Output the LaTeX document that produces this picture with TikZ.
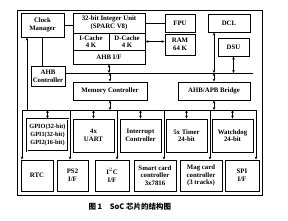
\documentclass[tikz,border=0pt]{standalone}
\usepackage{fontspec}
\setmainfont{Liberation Serif}
\newfontfamily\cjk{Noto Sans CJK SC}
\usepackage{tikz}
\usetikzlibrary{arrows.meta, positioning, calc}
\tikzset{
    box/.style={rectangle, draw, line width=0.9pt, inner sep=0pt, align=center,
                font=\fontsize{6.8}{7.6}\selectfont\bfseries},
    arrow/.style={line width=0.7pt,-{Stealth[length=3pt,width=2.6pt]}},
    dblarrow/.style={line width=0.7pt,{Stealth[length=3pt,width=2.6pt]}-{Stealth[length=3pt,width=2.6pt]}},
    bus/.style={line width=0.9pt}
}

\begin{document}
\begin{tikzpicture}[x=1pt, y=-1pt]
    \useasboundingbox (0,0) rectangle (288,220);
    % Frame
    \draw[line width=0.9pt] (17,10) rectangle (262,195);

    % CPU part
    \node[box, minimum width=43, minimum height=24] (clk) at (42.5,25) {Clock\\Manager};
    \node[box, minimum width=72, minimum height=20] (iu) at (109,23) {32-bit Integer Unit\\(SPARC V8)};
    \node[box, minimum width=36, minimum height=17] (icache) at (91,41.5) {I-Cache\\4 K};
    \node[box, minimum width=36, minimum height=17] (dcache) at (127,41.5) {D-Cache\\4 K};
    \node[box, minimum width=72, minimum height=14] (ahbif) at (109,57) {AHB I/F};
    \node[box, minimum width=30, minimum height=18] (fpu) at (180,23) {FPU};
    \node[box, minimum width=30, minimum height=21] (ram) at (180,44.5) {RAM\\64 K};
    \node[box, minimum width=42, minimum height=18] (dcl) at (229,23) {DCL};
    \node[box, minimum width=31, minimum height=18] (dsu) at (233.5,47) {DSU};
    \node[box, minimum width=34, minimum height=20] (ahbc) at (48,76) {AHB\\Controller};
    \node[box, minimum width=74, minimum height=18] (mem) at (110,91) {Memory Controller};
    \node[box, minimum width=72, minimum height=18] (bridge) at (214,91) {AHB/APB Bridge};

    % Peripherals
    \node[box, double, double distance=0.8pt, minimum width=41, minimum height=32,
          font=\fontsize{6.3}{8}\selectfont\bfseries] (gpio) at (47.5,135)
        {GPIO(32-bit)\\GPI1(32-bit)\\GPI2(16-bit)};
    \node[box, minimum width=41, minimum height=33] (uart) at (93.5,135.5) {4x\\UART};
    \node[box, minimum width=41, minimum height=33] (intc) at (140.5,135.5) {Interrupt\\Controller};
    \node[box, minimum width=41, minimum height=33] (timer) at (186.5,135.5) {5x Timer\\24-bit};
    \node[box, minimum width=41, minimum height=33] (wdog) at (232.5,135.5) {Watchdog\\24-bit};
    \node[box, minimum width=32, minimum height=31] (rtc) at (37,175.5) {RTC};
    \node[box, minimum width=31, minimum height=31] (ps2) at (72.5,175.5) {PS2\\I/F};
    \node[box, minimum width=34, minimum height=31] (i2c) at (112,175.5) {I$^2$C\\I/F};
    \node[box, minimum width=42, minimum height=31] (smart) at (155,175.5) {Smart card\\controller\\3x7816};
    \node[box, minimum width=42, minimum height=31] (mag) at (201,175.5) {Mag card\\controller\\(3 tracks)};
    \node[box, minimum width=34, minimum height=31] (spi) at (242,175.5) {SPI\\I/F};

    % Buses
    \coordinate (ahbL) at (65,73);
    \coordinate (ahbR) at (253,73);
    \coordinate (apbL) at (22,110);
    \coordinate (apbR) at (256,110);
    \coordinate (ck) at (27,110);
    \draw[bus] (ahbL) -- (ahbR);
    \draw[bus] (apbL) -- (apbR);

    % Links
    \draw[bus] (clk.east) -- (clk.east -| iu.west);
    \draw[bus] (iu.east) -- (fpu.west);
    \draw[bus] (clk.south) -- (clk.south |- ahbc.north);
    \draw[arrow] (ck) -- (ck |- clk.south);
    \draw[dblarrow] (dcache.east) -- (dcache.east -| ram.west);
    \draw[dblarrow] (ahbif.south) -- (ahbif.south |- ahbL);
    \draw[dblarrow] (mem.north |- ahbL) -- (mem.north);
    \draw[dblarrow] (bridge.north |- dcl.south) -- (bridge.north |- ahbL);
    \draw[dblarrow] (dsu.south) -- (dsu.south |- ahbL);
    \draw[dblarrow] (bridge.north |- ahbL) -- (bridge.north);
    \draw[dblarrow] (mem.south) -- (mem.south |- apbL);
    \draw[dblarrow] (bridge.south) -- (bridge.south |- apbL);
    \foreach \n in {gpio,uart,intc,timer,wdog}
        \draw[dblarrow] (\n.north |- apbL) -- (\n.north);
    \foreach \n/\x in {rtc/22,ps2/70,i2c/117,smart/164,mag/210,spi/256}
        \draw[arrow] (\x,0 |- apbL) -- (\x,0 |- \n.north);

    % Caption
    \node[anchor=west, font=\cjk\bfseries\fontsize{7.5}{9}\selectfont] (cap) at (85,207) {图 1\quad SoC 芯片的结构图};
\end{tikzpicture}
\end{document}
